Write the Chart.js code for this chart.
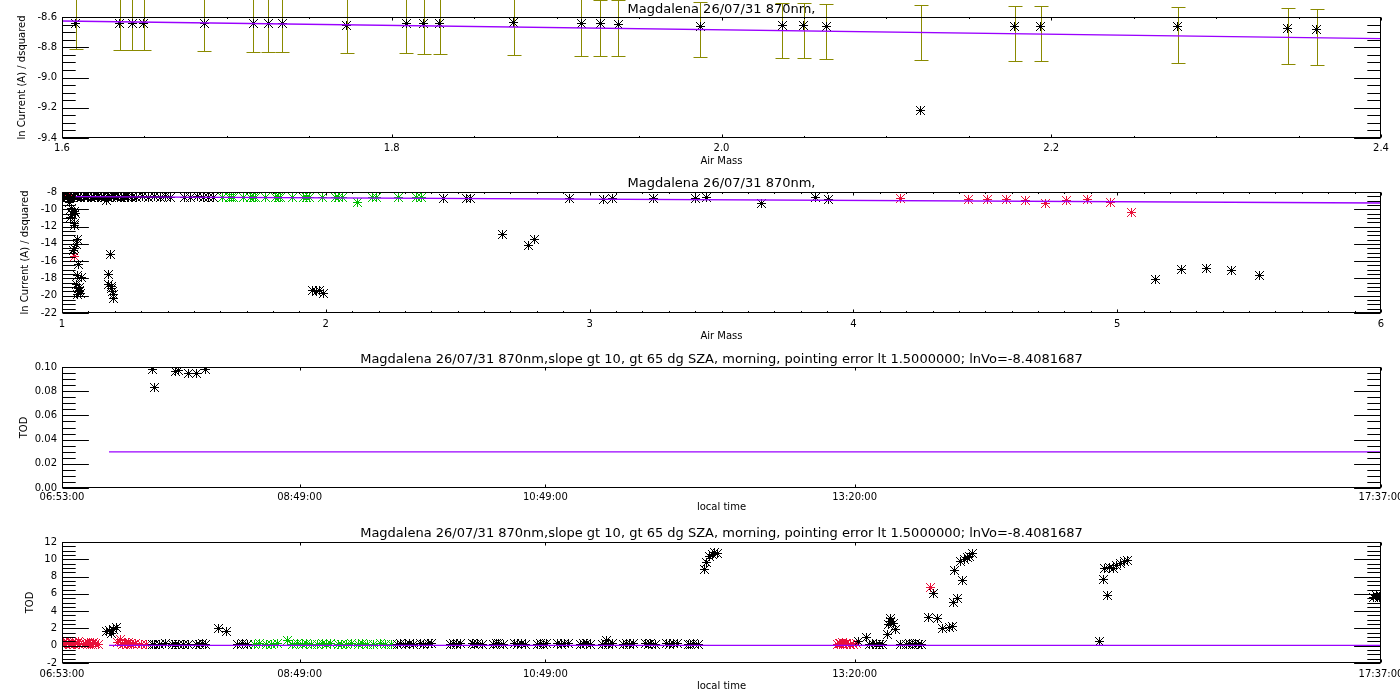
<!DOCTYPE html>
<html lang="en">
<head>
<meta charset="UTF-8">
<title>Magdalena 26/07/31 870nm</title>
<script src="https://cdn.jsdelivr.net/npm/chart.js"></script>
<style>
    html, body { margin: 0; padding: 0; background: #fff; overflow: hidden; }
    body { width: 1400px; height: 700px; position: relative; }
    canvas { position: absolute; left: 0; }
</style>
</head>
<body>
<canvas id="p1" width="1430" height="172" style="top:0px"></canvas>
<canvas id="p2" width="1430" height="173" style="top:172px"></canvas>
<canvas id="p3" width="1430" height="175" style="top:345px"></canvas>
<canvas id="p4" width="1430" height="180" style="top:520px"></canvas>
<script>
    const FONT = 'DejaVu Sans';
    const BLACK = '#000000', RED = '#e8103a', GREEN = '#00c000', PURPLE = '#9a00ff', OLIVE = '#8a8a00';

    const titleShort = 'Magdalena 26/07/31 870nm,';
    const titleLong = 'Magdalena 26/07/31 870nm,slope gt 10, gt 65 dg SZA, morning, pointing error lt 1.5000000; lnVo=-8.4081687';

    // panel 1: points kept for the Langley fit, with error bars
    const airMass1 = [1.6084, 1.6349, 1.6425, 1.6496, 1.6864, 1.7159, 1.7251, 1.7335, 1.7728, 1.8088, 1.8194, 1.8291, 1.8740,
        1.9149, 1.9265, 1.9374, 1.9870, 2.0367, 2.0498, 2.0636, 2.1210, 2.1778, 2.1935, 2.2767, 2.3433, 2.3609];
    const lnCurrent1 = [-8.641, -8.643, -8.642, -8.644, -8.641, -8.643, -8.642, -8.641, -8.653, -8.646, -8.642, -8.643, -8.638,
        -8.646, -8.645, -8.647, -8.660, -8.657, -8.658, -8.662, -9.215, -8.664, -8.665, -8.664, -8.677, -8.681];
    const errLow1 = [-8.814, -8.818, -8.818, -8.818, -8.827, -8.833, -8.833, -8.833, -8.840, -8.838, -8.845, -8.845, -8.853,
        -8.860, -8.860, -8.860, -8.867, -8.873, -8.873, -8.880, -8.886, -8.893, -8.893, -8.906, -8.913, -8.919];
    const errHigh1 = [-8.442, -8.446, -8.446, -8.446, -8.455, -8.461, -8.461, -8.461, -8.468, -8.466, -8.473, -8.473, -8.481,
        -8.475, -8.489, -8.489, -8.499, -8.505, -8.505, -8.512, -8.519, -8.525, -8.525, -8.536, -8.543, -8.549];

    // fit line (ln current vs air mass)
    const fitAirMass = [1.05, 6.0];
    const fitLnCurrent = [-8.546, -9.270];

    // panel 2: all points
    const airMassBlack2 = [1.004, 1.010, 1.019, 1.025, 1.033, 1.042, 1.048, 1.057, 1.063, 1.071, 1.080, 1.086, 1.095, 1.101,
        1.110, 1.118, 1.124, 1.133, 1.139, 1.148, 1.156, 1.162, 1.171, 1.177, 1.186, 1.194, 1.200, 1.209, 1.215, 1.224,
        1.232, 1.238, 1.247, 1.253, 1.262, 1.268, 1.283, 1.305, 1.327, 1.349, 1.372, 1.394, 1.413,
        1.466, 1.489, 1.512, 1.538, 1.557, 1.576,
        1.030, 1.037, 1.049, 1.039, 1.052, 1.034, 1.047, 1.049, 1.060, 1.056, 1.049, 1.043, 1.064, 1.060, 1.075,
        1.056, 1.068, 1.062, 1.064, 1.072, 1.060, 1.068,
        1.169, 1.183, 1.176, 1.178, 1.188, 1.186, 1.191, 1.194, 1.194,
        1.948, 1.963, 1.978, 1.993,
        2.448, 2.532, 2.550, 2.668, 2.767, 2.793, 2.922, 3.051, 3.085, 3.244, 3.403, 3.445, 3.650, 3.855, 3.904,
        5.147, 5.242, 5.337, 5.435, 5.541];
    const lnBlack2 = [-8.52, -8.61, -8.55, -8.49, -8.63, -8.57, -8.51, -8.60, -8.54, -8.62, -8.50, -8.58, -8.64, -8.53,
        -8.59, -8.51, -8.62, -8.56, -8.50, -8.60, -8.55, -8.63, -8.52, -8.58, -8.61, -8.49, -8.57, -8.63, -8.54, -8.60,
        -8.51, -8.58, -8.62, -8.55, -8.59, -8.53, -8.58, -8.56, -8.59, -8.55, -8.58, -8.57, -8.60,
        -8.58, -8.60, -8.57, -8.62, -8.59, -8.61,
        -9.27, -9.93, -10.24, -10.63, -10.51, -11.00, -11.60, -11.86, -13.52, -14.10, -14.48, -14.76, -16.41, -17.65, -17.95,
        -18.73, -19.04, -19.19, -19.50, -19.69, -19.88, -19.42,
        -9.00, -15.26, -17.49, -18.73, -18.92, -19.19, -19.50, -19.88, -20.35,
        -19.40, -19.50, -19.40, -19.70,
        -8.70, -8.70, -8.72, -12.94, -14.21, -13.52, -8.70, -8.89, -8.70, -8.70, -8.70, -8.62, -9.28, -8.64, -8.81,
        -18.15, -16.99, -16.84, -17.10, -17.68];
    const airMassRed2 = [1.028, 1.031, 1.029, 1.047, 4.177, 4.438, 4.510, 4.579, 4.654, 4.730, 4.806, 4.889, 4.973, 5.056];
    const lnRed2 = [-8.45, -8.62, -8.75, -15.45, -8.70, -8.81, -8.81, -8.81, -8.97, -9.28, -8.97, -8.81, -9.16, -10.32];

    // panels 3 and 4: TOD against local time (decimal hours)
    const timeTickLabels = ['06:53:00', '08:49:00', '10:49:00', '13:20:00', '17:37:00'];
    const timeBlack = [7.2495, 7.2739, 7.2878, 7.3008, 7.3285,
        7.6238, 7.6401, 7.6808, 7.7296, 7.7785, 7.8110, 7.8354, 7.8761, 7.9087, 7.9770, 8.0063, 8.0226, 8.0551,
        8.1528, 8.2260, 8.3074, 8.3481, 8.3888,
        9.6175, 9.6419, 9.6745, 9.7071, 9.7396, 9.7966, 9.8291, 9.8617, 9.8942,
        10.0407, 10.0651, 10.0895, 10.1221, 10.2197, 10.2441, 10.2685, 10.3011, 10.3906, 10.4150, 10.4394, 10.4720,
        10.5696, 10.5940, 10.6185, 10.6510, 10.7487, 10.7731, 10.7975, 10.8300, 10.9195, 10.9440, 10.9684, 11.0009,
        11.0986, 11.1230, 11.1474, 11.1800, 11.2776, 11.3020, 11.3102, 11.3264, 11.3590, 11.4485, 11.4729, 11.4973, 11.5299,
        11.6275, 11.6519, 11.6763, 11.7089, 11.8065, 11.8309, 11.8554, 11.8879, 11.9774, 12.0018, 12.0262, 12.0588,
        12.1076, 12.1320, 12.1564, 12.1808, 12.1971, 12.2134,
        13.3689, 13.4340, 13.4584, 13.4828, 13.5073, 13.5317, 13.5561, 13.5968, 13.6049, 13.6212, 13.6293, 13.6456, 13.6619,
        13.7026, 13.7514, 13.7758, 13.8002, 13.8247, 13.8491, 13.8735, 13.9304, 13.9711, 14.0037, 14.0444, 14.1013, 14.1257,
        14.1339, 14.1664, 14.1501, 14.2152, 14.1908, 14.2234, 14.2478, 14.2641, 14.2885,
        15.3219, 15.3545, 15.3626, 15.3870, 15.4033, 15.4359, 15.4603, 15.4928, 15.5254, 15.5498,
        17.5516, 17.5760, 17.6005, 17.6167];
    const todBlack = [1.67, 1.78, 1.47, 1.86, 2.05,
        0.098, 0.083, 0.16, 0.21, 0.14, 0.096, 0.097, 0.18, 0.095, 0.095, 0.13, 0.22, 0.098,
        1.95, 1.67, 0.17, 0.24, 0.15,
        0.18, 0.25, 0.15, 0.21, 0.17, 0.23, 0.14, 0.20, 0.26,
        0.18, 0.24, 0.15, 0.29, 0.21, 0.14, 0.26, 0.19, 0.16, 0.27, 0.20, 0.13,
        0.23, 0.17, 0.30, 0.15, 0.19, 0.25, 0.14, 0.22, 0.28, 0.16, 0.20, 0.24,
        0.13, 0.21, 0.27, 0.18, 0.15, 0.23, 0.65, 0.19, 0.26, 0.17, 0.30, 0.14, 0.22,
        0.20, 0.16, 0.25, 0.18, 0.24, 0.13, 0.21, 0.28, 0.19, 0.15, 0.23, 0.17,
        8.8, 9.6, 10.3, 10.5, 10.8, 10.7,
        0.5, 1.0, 0.15, 0.22, 0.13, 0.19, 0.16, 1.35, 2.4, 2.8, 3.1, 2.6, 1.85,
        0.18, 0.14, 0.23, 0.16, 0.21, 0.13, 0.19, 3.3, 6.0, 3.2, 2.0, 2.05, 2.2,
        4.95, 5.45, 8.7, 7.55, 9.75, 9.95, 10.15, 10.35, 10.65,
        0.5, 7.65, 8.9, 5.8, 9.0, 8.9, 9.25, 9.55, 9.75, 9.9,
        5.6, 5.8, 5.6, 5.7];
    const timeRed = [6.8875, 6.8990, 6.9078, 6.9200, 6.9322, 6.9444, 6.9566, 6.9688, 6.9810, 6.9932, 7.0054, 7.0176, 7.0298,
        7.0786, 7.0908, 7.1030, 7.1150, 7.1275, 7.1400, 7.1519, 7.1763,
        7.3390, 7.3634, 7.3760, 7.3879, 7.4000, 7.4123, 7.4245, 7.4367, 7.4611, 7.4855, 7.5343, 7.5750,
        13.1980, 13.2100, 13.2224, 13.2346, 13.2468, 13.2590, 13.2712, 13.2957, 13.3201, 13.3445, 13.9467];
    const todRed = [0.18, 0.32, 0.14, 0.40, 0.27, 0.12, 0.21, 0.35, 0.15, 0.30, 0.22, 0.44, 0.16,
        0.22, 0.38, 0.31, 0.12, 0.16, 0.34, 0.26, 0.13,
        0.42, 0.70, 0.18, 0.30, 0.40, 0.19, 0.33, 0.24, 0.14, 0.28, 0.17, 0.15,
        0.14, 0.30, 0.22, 0.38, 0.12, 0.26, 0.25, 0.18, 0.13, 0.21, 6.75];
    const timeGreen = [8.4538, 8.4945, 8.5434, 8.5841, 8.6410, 8.7224, 8.7630, 8.8037, 8.8444, 8.8770, 8.9177, 8.9665, 8.9991,
        9.0397, 9.0723, 9.1293, 9.1618, 9.2025, 9.2432, 9.2921, 9.3246, 9.3734, 9.4141, 9.4711, 9.5118, 9.5606];
    const todGreen = [0.16, 0.21, 0.14, 0.19, 0.23, 0.55, 0.17, 0.22, 0.15, 0.20, 0.13, 0.18, 0.24,
        0.16, 0.21, 0.14, 0.19, 0.17, 0.22, 0.15, 0.20, 0.18, 0.13, 0.21, 0.16, 0.19];
    const fitTime = [7.266, 17.617];
    const fitTod = [0.0298, 0.0298];

    const toHours = s => { const [h, m, sec] = s.split(':').map(Number); return h + m / 60 + sec / 3600; };
    const pts = (xs, ys) => xs.map((x, i) => ({x: x, y: ys[i]}));

    // IDL style asterisk (psym=2), drawn pixel by pixel so it stays crisp
    const makeStar = color => {
        const c = document.createElement('canvas');
        c.width = 11; c.height = 11;
        const g = c.getContext('2d');
        g.fillStyle = color;
        for (let i = 1; i <= 9; i++) {
            g.fillRect(i, 5, 1, 1);
            g.fillRect(5, i, 1, 1);
            g.fillRect(i, i, 1, 1);
            g.fillRect(i, 10 - i, 1, 1);
        }
        return c;
    };
    const starBlack = makeStar(BLACK), starRed = makeStar(RED), starGreen = makeStar(GREEN);

    const points = (xs, ys, star) => ({data: pts(xs, ys), pointStyle: star, pointRadius: 5, showLine: false, order: 2});
    const fitLine = (xs, ys) => ({data: pts(xs, ys), showLine: true, pointRadius: 0, borderColor: PURPLE, borderWidth: 1.3, order: 0});

    const withMinor = (majors, n) => {
        const out = majors.map(v => [v, true]);
        if (!n) return out;
        for (let i = 0; i < majors.length - 1; i++) {
            const step = (majors[i + 1] - majors[i]) / n;
            for (let k = 1; k < n; k++) out.push([majors[i] + k * step, false]);
        }
        return out;
    };

    // box with inward ticks on all four sides
    const idlFrame = {
        id: 'idlFrame',
        beforeDatasetsDraw(chart) {
            chart.ctx.imageSmoothingEnabled = false;
        },
        afterDatasetsDraw(chart, args, opts) {
            const {ctx, chartArea: a, scales: {x, y}} = chart;
            const L = Math.round(a.left) + 0.5, R = Math.round(a.right) - 0.5;
            const T = Math.round(a.top) + 0.5, B = Math.round(a.bottom) - 0.5;
            const yMaj = 0.02 * a.width, xMaj = 0.02 * a.height + 0.6;
            ctx.save();
            ctx.strokeStyle = '#000';
            ctx.lineWidth = 1;
            ctx.strokeRect(L, T, R - L, B - T);
            ctx.beginPath();
            withMinor(x.ticks.map(t => t.value), opts.xMinor).forEach(([v, major]) => {
                const p = Math.round(x.getPixelForValue(v)) + 0.5;
                const len = major ? xMaj : xMaj / 2;
                ctx.moveTo(p, B); ctx.lineTo(p, B - len);
                ctx.moveTo(p, T); ctx.lineTo(p, T + len);
            });
            withMinor(y.ticks.map(t => t.value), opts.yMinor).forEach(([v, major]) => {
                const p = Math.round(y.getPixelForValue(v)) + 0.5;
                const len = major ? yMaj : yMaj / 2;
                ctx.moveTo(L, p); ctx.lineTo(L + len, p);
                ctx.moveTo(R, p); ctx.lineTo(R - len, p);
            });
            ctx.stroke();
            ctx.restore();
        }
    };
    Chart.register(idlFrame);

    const errorBars = {
        id: 'errorBars',
        beforeDatasetsDraw(chart) {
            const {ctx, scales: {x, y}} = chart;
            ctx.save();
            ctx.strokeStyle = OLIVE;
            ctx.lineWidth = 1;
            ctx.beginPath();
            airMass1.forEach((m, i) => {
                const p = Math.round(x.getPixelForValue(m)) + 0.5;
                const lo = Math.round(y.getPixelForValue(errLow1[i])) + 0.5;
                const hi = Math.round(y.getPixelForValue(errHigh1[i])) + 0.5;
                ctx.moveTo(p, lo); ctx.lineTo(p, hi);
                ctx.moveTo(p - 7, lo); ctx.lineTo(p + 7, lo);
                ctx.moveTo(p - 7, hi); ctx.lineTo(p + 7, hi);
            });
            ctx.stroke();
            ctx.restore();
        }
    };

    const tickFont = {family: FONT, size: 10};
    const axisX = o => ({
        type: 'linear', position: 'bottom', min: o.min, max: o.max,
        grid: {display: false, drawTicks: false}, border: {display: false},
        ticks: {stepSize: o.step, font: tickFont, color: '#000', padding: o.pad, maxRotation: 0, autoSkip: false, callback: o.fmt},
        title: {display: true, text: o.title, font: tickFont, color: '#000', padding: {top: 0, bottom: o.titlePad}},
        afterBuildTicks: o.ticks ? (s => { s.ticks = o.ticks.map(v => ({value: v})); }) : undefined,
        afterFit: s => { s.height = o.height; }
    });
    const axisY = o => ({
        type: 'linear', position: 'left', min: o.min, max: o.max,
        grid: {display: false, drawTicks: false}, border: {display: false},
        ticks: {stepSize: o.step, font: tickFont, color: '#000', padding: 5, autoSkip: false, callback: o.fmt},
        title: {display: true, text: o.title, font: tickFont, color: '#000', padding: {top: o.titlePad, bottom: 0}},
        afterFit: s => { s.width = 62; }
    });

    const makeChart = (id, cfg) => new Chart(document.getElementById(id), {
        type: 'scatter',
        data: {datasets: cfg.datasets},
        options: {
            responsive: false,
            animation: false,
            events: [],
            layout: {padding: {left: 0, right: 49, top: 0, bottom: 0}, autoPadding: false},
            plugins: {
                legend: {display: false},
                tooltip: {enabled: false},
                title: {display: true, text: cfg.title, fullSize: false, color: '#000',
                    font: {family: FONT, size: 13, weight: 'normal', lineHeight: '14px'}, padding: cfg.titlePad},
                idlFrame: {xMinor: cfg.xMinor, yMinor: cfg.yMinor}
            },
            scales: {x: cfg.x, y: cfg.y}
        },
        plugins: cfg.plugins || []
    });

    const timeMin = toHours(timeTickLabels[0]);
    const timeMax = toHours(timeTickLabels[timeTickLabels.length - 1]);
    const timeTicks = timeTickLabels.map(toHours);
    const timeFmt = (v, i) => timeTickLabels[i];

    const todDatasets = () => [
        fitLine(fitTime, fitTod),
        points(timeBlack, todBlack, starBlack),
        points(timeRed, todRed, starRed),
        points(timeGreen, todGreen, starGreen)
    ];

    makeChart('p1', {
        title: titleShort, titlePad: {top: 3, bottom: 0},
        xMinor: 4, yMinor: 4,
        datasets: [fitLine(fitAirMass, fitLnCurrent), points(airMass1, lnCurrent1, starBlack)],
        x: axisX({min: 1.6, max: 2.4, step: 0.2, pad: 4, fmt: v => v.toFixed(1), title: 'Air Mass', titlePad: 5, height: 34}),
        y: axisY({min: -9.4, max: -8.6, step: 0.2, fmt: v => v.toFixed(1), title: 'ln Current (A) / dsquared', titlePad: 16}),
        plugins: [errorBars]
    });

    makeChart('p2', {
        title: titleShort, titlePad: {top: 5, bottom: 1},
        xMinor: 10, yMinor: 4,
        datasets: [
            fitLine(fitAirMass, fitLnCurrent),
            points(airMassBlack2, lnBlack2, starBlack),
            points(airMassRed2, lnRed2, starRed),
            points(airMass1, lnCurrent1, starGreen)
        ],
        x: axisX({min: 1, max: 6, step: 1, pad: 5, fmt: v => v.toFixed(0), title: 'Air Mass', titlePad: 3, height: 32}),
        y: axisY({min: -22, max: -8, step: 2, fmt: v => v.toFixed(0), title: 'ln Current (A) / dsquared', titlePad: 19})
    });

    makeChart('p3', {
        title: titleLong, titlePad: {top: 8, bottom: 0},
        xMinor: 0, yMinor: 4,
        datasets: todDatasets(),
        x: axisX({min: timeMin, max: timeMax, ticks: timeTicks, pad: 3, fmt: timeFmt, title: 'local time', titlePad: 7, height: 32}),
        y: axisY({min: 0, max: 0.1, step: 0.02, fmt: v => v.toFixed(2), title: 'TOD', titlePad: 18})
    });

    makeChart('p4', {
        title: titleLong, titlePad: {top: 7, bottom: 1},
        xMinor: 0, yMinor: 4,
        datasets: todDatasets(),
        x: axisX({min: timeMin, max: timeMax, ticks: timeTicks, pad: 5, fmt: timeFmt, title: 'local time', titlePad: 8, height: 37}),
        y: axisY({min: -2, max: 12, step: 2, fmt: v => v.toFixed(0), title: 'TOD', titlePad: 24})
    });
</script>
</body>
</html>
